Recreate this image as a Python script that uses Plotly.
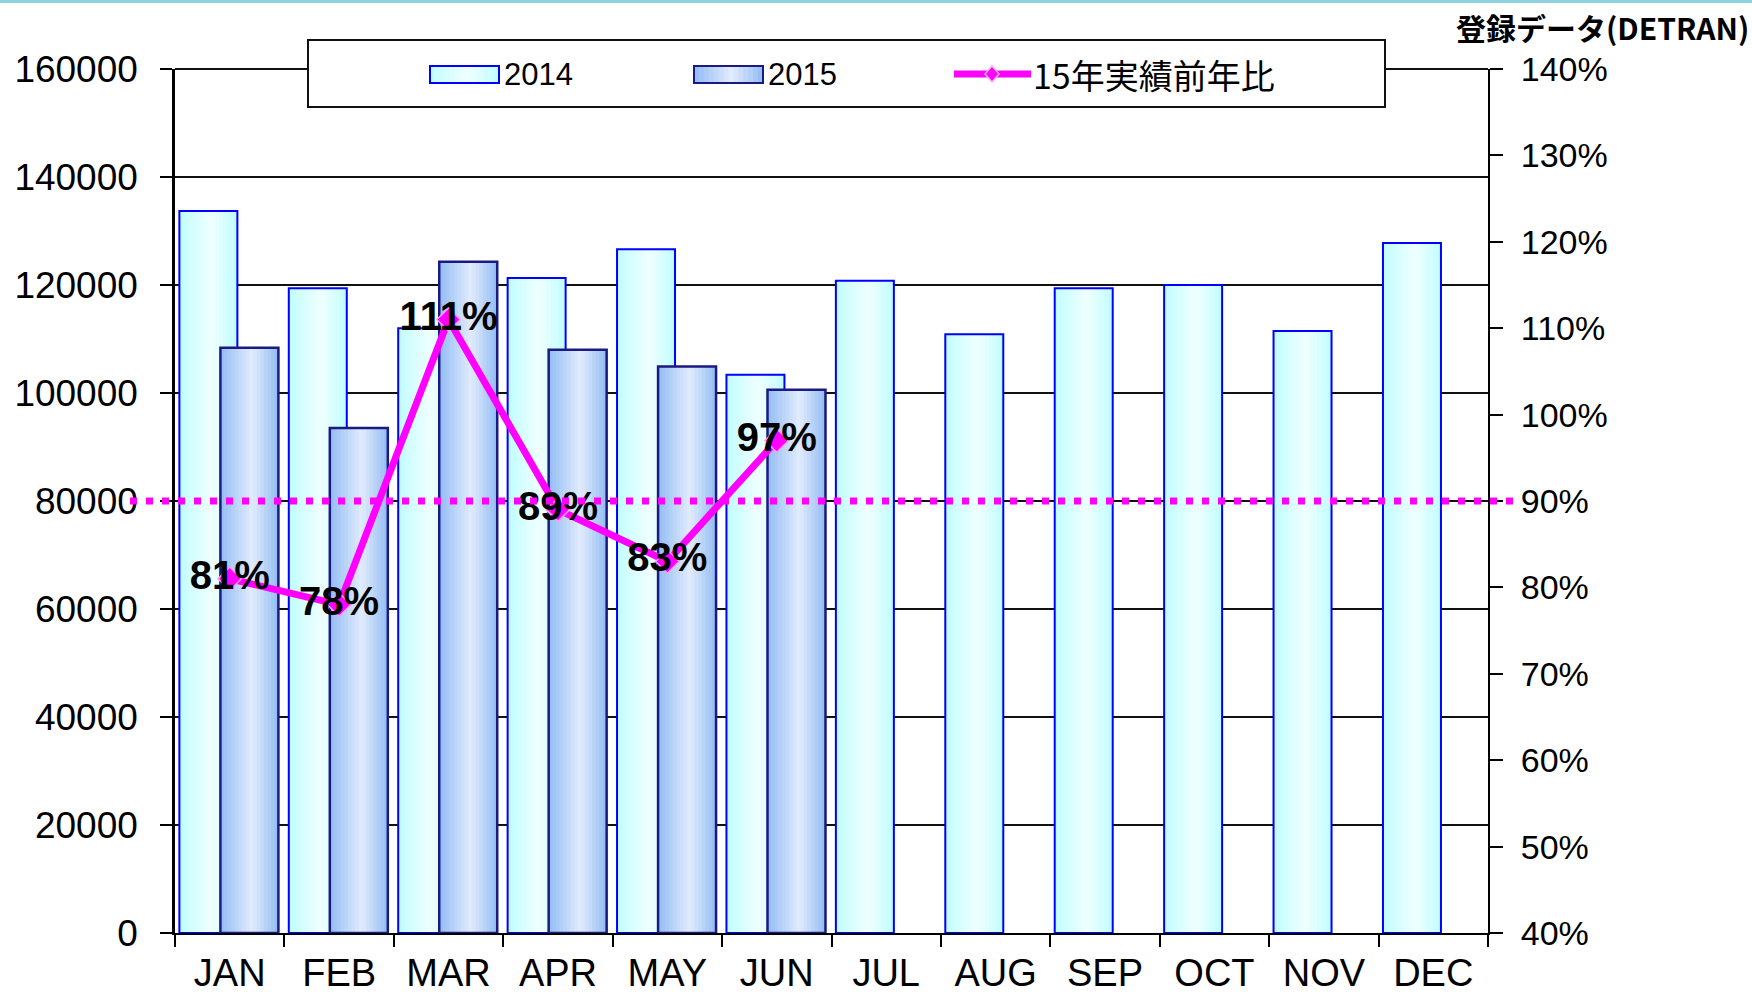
import plotly.graph_objects as go

# ---- data -------------------------------------------------------------
MONTHS = ["JAN", "FEB", "MAR", "APR", "MAY", "JUN",
          "JUL", "AUG", "SEP", "OCT", "NOV", "DEC"]
SALES_2014 = [133700, 119400, 112000, 121300, 126600, 103400,
              120800, 110900, 119400, 120000, 111500, 127800]
SALES_2015 = [108400, 93500, 124300, 108000, 104900, 100600]
RATIO_2015 = [81, 78, 111, 89, 83, 97]          # % of previous year
RATIO_LABELS = [f"{v}%" for v in RATIO_2015]
TARGET_RATIO = 90                                # reference line (%)
Y_TICKS = [0, 20000, 40000, 60000, 80000, 100000, 120000, 140000, 160000]
Y2_TICKS = [40, 50, 60, 70, 80, 90, 100, 110, 120, 130, 140]
Y2_TEXT = [f"{v}%" for v in Y2_TICKS]

TITLE = "登録データ(DETRAN)"
LEGEND_NAMES = ["2014", "2015", "15年実績前年比"]

# ---- page geometry -----------------------------------------------------
FIG_W, FIG_H = 1752, 997
M_L, M_R, M_T, M_B = 175, 264, 69, 64
PW = FIG_W - M_L - M_R
PH = FIG_H - M_T - M_B


def px_x(px):
    return (px - M_L) / PW


def px_y(py):
    return (FIG_H - M_B - py) / PH


SANS = "Liberation Sans, Arial, sans-serif"
CJK = "Noto Sans CJK JP, Noto Sans CJK SC, sans-serif"

C14_EDGE, C14_MID, C14_LINE = "#c0fdff", "#f0ffff", "#0000ff"
C15_EDGE, C15_MID, C15_LINE = "#92bcf3", "#e2ecfc", "#1a1a80"
MAGENTA = "#ff00ff"


def _rgb(h):
    h = h.lstrip("#")
    return tuple(int(h[i:i + 2], 16) for i in (0, 2, 4))


def grad(edge, mid, t, center=0.55):
    f = t / center if t < center else (1 - t) / (1 - center)
    a, b = _rgb(edge), _rgb(mid)
    c = [round(a[k] + (b[k] - a[k]) * f) for k in range(3)]
    return "rgb({},{},{})".format(*c)


fig = go.Figure()

N_STRIPS = 16
BAR_W = 0.53


def add_gradient_bars(x, y, offset, edge, mid, line_color, line_w, name):
    step = BAR_W / N_STRIPS
    for i in range(N_STRIPS):
        t = (i + 0.5) / N_STRIPS
        w = step * 1.3 if i < N_STRIPS - 1 else step
        fig.add_bar(x=x, y=y, offset=offset + i * step, width=w,
                    marker=dict(color=grad(edge, mid, t), line=dict(width=0)),
                    showlegend=False, hoverinfo="skip")
    fig.add_bar(x=x, y=y, offset=offset, width=BAR_W, name=name,
                marker=dict(color="rgba(0,0,0,0)",
                            line=dict(color=line_color, width=line_w)),
                showlegend=False)


add_gradient_bars(MONTHS, SALES_2014, -0.46, C14_EDGE, C14_MID, C14_LINE, 2, "2014")
add_gradient_bars(MONTHS[:len(SALES_2015)], SALES_2015, -0.085,
                  C15_EDGE, C15_MID, C15_LINE, 2.5, "2015")

fig.add_scatter(
    x=MONTHS[:len(RATIO_2015)], y=RATIO_2015, yaxis="y2", name=LEGEND_NAMES[2],
    mode="lines+markers+text", text=RATIO_LABELS, textposition="middle center",
    textfont=dict(family=SANS, size=40, color="black", weight="bold"),
    line=dict(color=MAGENTA, width=7),
    marker=dict(symbol="diamond", size=18, color=MAGENTA,
                line=dict(color="#ff9cff", width=1.5)),
    showlegend=False,
)

# ---- shapes: page band, top rule, reference line, legend ---------------
shapes = [
    dict(type="rect", xref="paper", yref="paper", layer="above",
         x0=px_x(-5), x1=px_x(FIG_W + 5), y0=px_y(3), y1=px_y(-5),
         fillcolor="#8ed2e0", line=dict(width=0)),
    dict(type="line", xref="paper", yref="paper", layer="above",
         x0=0, x1=1, y0=1, y1=1, line=dict(color="#111111", width=2)),
    dict(type="line", xref="paper", yref="paper", layer="above",
         x0=px_x(130), x1=px_x(1514),
         y0=(TARGET_RATIO - Y2_TICKS[0]) / (Y2_TICKS[-1] - Y2_TICKS[0]),
         y1=(TARGET_RATIO - Y2_TICKS[0]) / (Y2_TICKS[-1] - Y2_TICKS[0]),
         line=dict(color=MAGENTA, width=7, dash="7px,9px")),
    dict(type="rect", xref="paper", yref="paper", layer="above",
         x0=px_x(308), x1=px_x(1385), y0=px_y(107), y1=px_y(40),
         fillcolor="white", line=dict(color="#111111", width=2)),
]

annotations = []


def legend_swatch(x0, x1, edge, mid, line_color):
    n = 14
    step = (x1 - x0) / n
    for i in range(n):
        t = (i + 0.5) / n
        shapes.append(dict(type="rect", xref="paper", yref="paper", layer="above",
                           x0=px_x(x0 + i * step),
                           x1=px_x(x0 + (i + 1.3) * step if i < n - 1 else x1),
                           y0=px_y(83), y1=px_y(66),
                           fillcolor=grad(edge, mid, t), line=dict(width=0)))
    shapes.append(dict(type="rect", xref="paper", yref="paper", layer="above",
                       x0=px_x(x0), x1=px_x(x1), y0=px_y(83), y1=px_y(66),
                       fillcolor="rgba(0,0,0,0)", line=dict(color=line_color, width=2)))


legend_swatch(430, 499, C14_EDGE, C14_MID, C14_LINE)
legend_swatch(694, 763, C15_EDGE, C15_MID, C15_LINE)
shapes.append(dict(type="line", xref="paper", yref="paper", layer="above",
                   x0=px_x(954), x1=px_x(1031), y0=px_y(74), y1=px_y(74),
                   line=dict(color=MAGENTA, width=7)))
shapes.append(dict(type="path", xref="paper", yref="paper", layer="above",
                   xsizemode="pixel", ysizemode="pixel",
                   xanchor=px_x(992), yanchor=px_y(74),
                   path="M -7,0 L 0,8 L 7,0 L 0,-8 Z",
                   fillcolor=MAGENTA, line=dict(color="#ffb0ff", width=1.5)))

for name, xpx, fam, size in [(LEGEND_NAMES[0], 502, SANS, 31),
                             (LEGEND_NAMES[1], 766, SANS, 31),
                             (LEGEND_NAMES[2], 1031, CJK, 34)]:
    annotations.append(dict(text=name, xref="paper", yref="paper",
                            x=px_x(xpx), y=px_y(75), xanchor="left", yanchor="middle",
                            showarrow=False, font=dict(family=fam, size=size, color="black")))

annotations.append(dict(text=TITLE, xref="paper", yref="paper",
                        x=px_x(1751), y=px_y(27), xanchor="right", yanchor="middle",
                        showarrow=False,
                        font=dict(family=CJK, size=30, color="black", weight="bold")))

fig.update_layout(
    width=FIG_W, height=FIG_H,
    margin=dict(l=M_L, r=M_R, t=M_T, b=M_B, pad=0, autoexpand=False),
    paper_bgcolor="white", plot_bgcolor="white",
    barmode="overlay", showlegend=False,
    shapes=shapes, annotations=annotations,
    xaxis=dict(type="category", categoryorder="array", categoryarray=MONTHS,
               range=[-0.5, len(MONTHS) - 0.5], automargin=False,
               showline=True, linecolor="black", linewidth=2,
               ticks="outside", tickson="boundaries", ticklen=12, tickwidth=2,
               tickcolor="black", showgrid=False,
               tickfont=dict(family=SANS, size=38, color="black"),
               ticklabelstandoff=5),
    xaxis3=dict(overlaying="x", anchor="y", side="bottom", automargin=False,
                range=[-0.5, len(MONTHS) - 0.5], tick0=-0.5, dtick=1,
                ticks="inside", ticklen=10, tickwidth=2, tickcolor="black",
                showticklabels=False, showline=False, showgrid=False, zeroline=False),
    yaxis=dict(range=[Y_TICKS[0], Y_TICKS[-1]], tickvals=Y_TICKS, automargin=False,
               tickformat="d", showgrid=True, gridcolor="#111111", gridwidth=2,
               showline=True, linecolor="black", linewidth=2.5, zeroline=False,
               ticks="outside", ticklen=12, tickwidth=2, tickcolor="black",
               tickfont=dict(family=SANS, size=37, color="black"),
               ticklabelstandoff=15),
    yaxis2=dict(overlaying="y", side="right", anchor="x", automargin=False,
                range=[Y2_TICKS[0], Y2_TICKS[-1]], tickvals=Y2_TICKS, ticktext=Y2_TEXT,
                showgrid=False, zeroline=False,
                showline=True, linecolor="black", linewidth=2,
                ticks="outside", ticklen=13, tickwidth=2, tickcolor="black",
                tickfont=dict(family=SANS, size=34, color="black"),
                ticklabelstandoff=11),
    yaxis3=dict(overlaying="y", side="right", anchor="x", automargin=False,
                range=[Y2_TICKS[0], Y2_TICKS[-1]], tickvals=Y2_TICKS,
                showticklabels=False, showgrid=False, zeroline=False, showline=False,
                ticks="inside", ticklen=13, tickwidth=2, tickcolor="black"),
)

fig.write_html("out.html")
